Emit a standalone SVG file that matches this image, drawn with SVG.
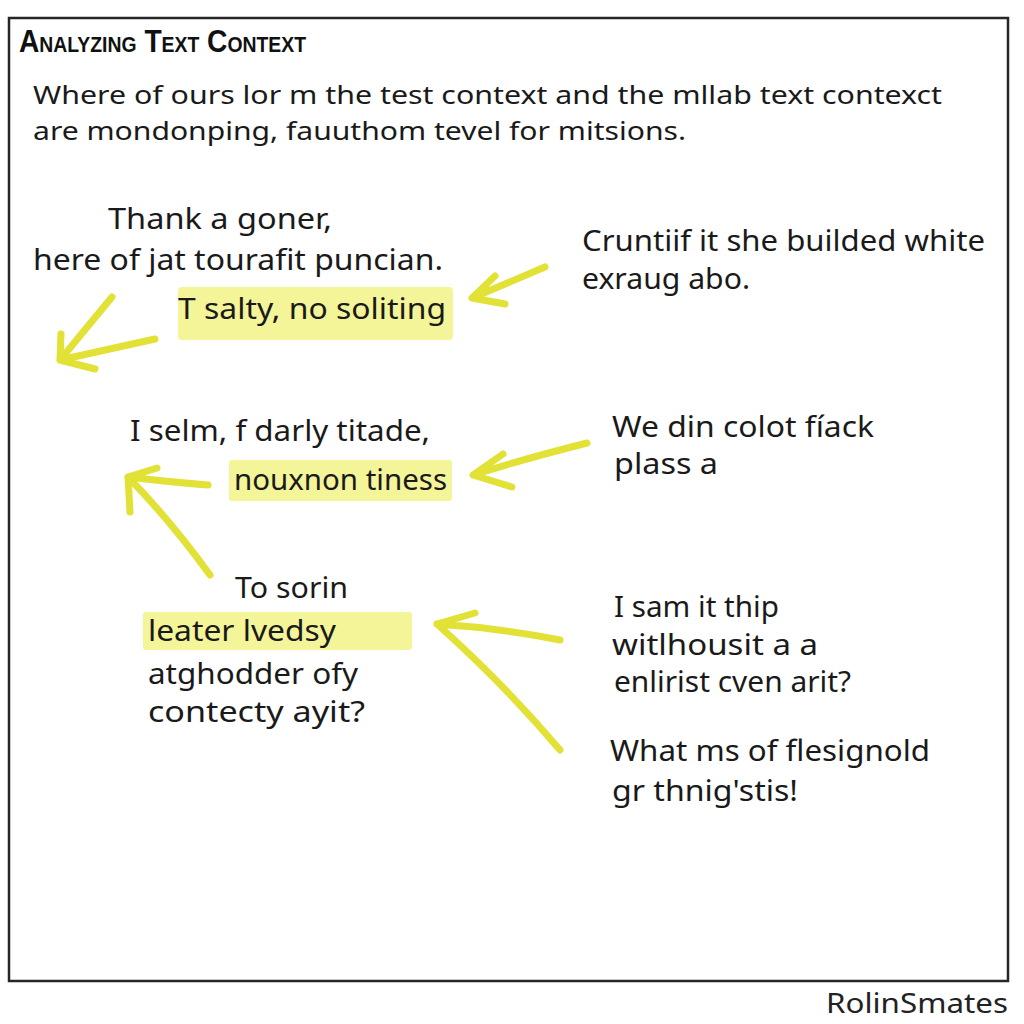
<svg xmlns="http://www.w3.org/2000/svg" width="1024" height="1024" viewBox="0 0 1024 1024">
<style>
  .t { font-family: "Noto Sans", "DejaVu Sans", sans-serif; font-size: 29px; fill: #1a1a1a; }
  .h { font-size: 26px; }
  .title { font-family: "Liberation Sans", Arial, sans-serif; font-weight: bold; font-size: 32px; font-variant: small-caps; fill: #111; }
  .hl { fill: #f3f38e; opacity: 0.9; }
  .arr { fill: none; stroke: #e2e136; stroke-width: 7; stroke-linecap: round; stroke-linejoin: round; }
  .sig { font-family: "Noto Sans", "DejaVu Sans", sans-serif; font-size: 28px; fill: #222; }
</style>
<rect x="0" y="0" width="1024" height="1024" fill="#ffffff"/>
<rect x="9" y="18" width="999" height="963" fill="#ffffff" stroke="#262626" stroke-width="2.5"/>

<g id="header">
  <text class="title" x="19" y="52" textLength="287" lengthAdjust="spacingAndGlyphs">Analyzing Text Context</text>
  <text class="t h" x="33" y="104" textLength="909" lengthAdjust="spacingAndGlyphs">Where of ours lor m the test context and the mllab text contexct</text>
  <text class="t h" x="33" y="140" textLength="653" lengthAdjust="spacingAndGlyphs">are mondonping, fauuthom tevel for mitsions.</text>
</g>

<g id="node-thank">
  <text class="t" x="108" y="229" textLength="224" lengthAdjust="spacingAndGlyphs">Thank a goner,</text>
  <text class="t" x="33" y="270" textLength="410" lengthAdjust="spacingAndGlyphs">here of jat tourafit puncian.</text>
</g>
<g id="node-tsalty">
  <rect class="hl" x="178" y="287" width="275" height="53" rx="4"/>
  <text class="t" x="178" y="319" textLength="268" lengthAdjust="spacingAndGlyphs">T salty, no soliting</text>
</g>
<g id="node-cruntiif">
  <text class="t" x="582" y="251" textLength="403" lengthAdjust="spacingAndGlyphs">Cruntiif it she builded white</text>
  <text class="t" x="582" y="289" textLength="168" lengthAdjust="spacingAndGlyphs">exraug abo.</text>
</g>
<g id="node-iselm">
  <text class="t" x="130" y="441" textLength="300" lengthAdjust="spacingAndGlyphs">I selm, f darly titade,</text>
</g>
<g id="node-nouxnon">
  <rect class="hl" x="229" y="460" width="223" height="41" rx="3"/>
  <text class="t" x="234" y="490" textLength="213" lengthAdjust="spacingAndGlyphs">nouxnon tiness</text>
</g>
<g id="node-wedin">
  <text class="t" x="612" y="437" textLength="262" lengthAdjust="spacingAndGlyphs">We din colot fíack</text>
  <text class="t" x="614" y="474" textLength="104" lengthAdjust="spacingAndGlyphs">plass a</text>
</g>
<g id="node-tosorin">
  <text class="t" x="235" y="598" textLength="113" lengthAdjust="spacingAndGlyphs">To sorin</text>
  <rect class="hl" x="143" y="612" width="269" height="38" rx="3"/>
  <text class="t" x="148" y="641" textLength="188" lengthAdjust="spacingAndGlyphs">leater lvedsy</text>
  <text class="t" x="148" y="684" textLength="210" lengthAdjust="spacingAndGlyphs">atghodder ofy</text>
  <text class="t" x="148" y="722" textLength="217" lengthAdjust="spacingAndGlyphs">contecty ayit?</text>
</g>
<g id="node-isam">
  <text class="t" x="614" y="617" textLength="165" lengthAdjust="spacingAndGlyphs">I sam it thip</text>
  <text class="t" x="612" y="655" textLength="206" lengthAdjust="spacingAndGlyphs">witlhousit a a</text>
  <text class="t" x="614" y="692" textLength="237" lengthAdjust="spacingAndGlyphs">enlirist cven arit?</text>
</g>
<g id="node-what">
  <text class="t" x="610" y="761" textLength="320" lengthAdjust="spacingAndGlyphs">What ms of flesignold</text>
  <text class="t" x="612" y="801" textLength="186" lengthAdjust="spacingAndGlyphs">gr thnig'stis!</text>
</g>

<g id="connectors">
  <path class="arr" d="M155 339 L60 360 M112 297 L60 360 M61 334 L60 360 L95 369"/>
  <path class="arr" d="M545 267 L472 298 M495 276 L472 298 L505 304"/>
  <path class="arr" d="M208 485 Q170 482 128 477 M157 468 L128 477 L130 512 M210 575 Q170 520 128 477"/>
  <path class="arr" d="M587 443 Q520 460 473 475 M503 454 L473 475 L512 487"/>
  <path class="arr" d="M560 640 Q500 628 437 624 M475 613 L437 624 M437 624 Q505 685 560 750"/>
</g>

<text class="sig" x="826" y="1013" textLength="182" lengthAdjust="spacingAndGlyphs">RolinSmates</text>
</svg>
